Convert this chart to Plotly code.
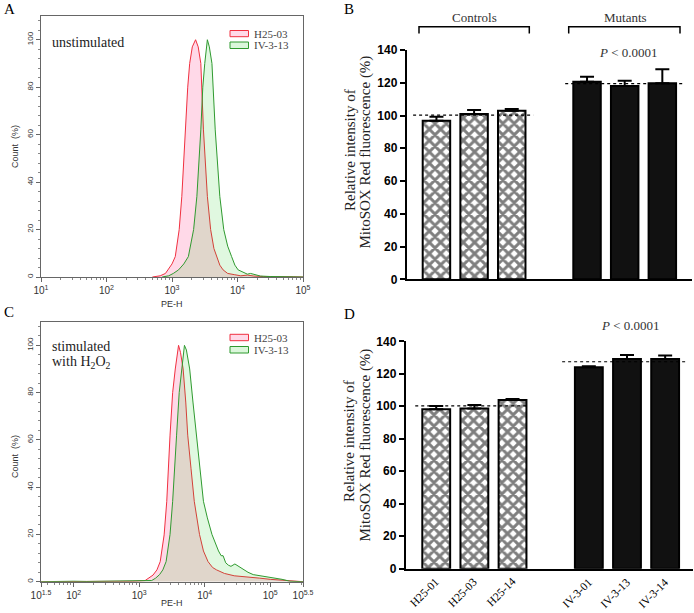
import plotly.graph_objects as go

W, H = 694, 613
def px(x): return x / W
def py(y): return 1 - y / H

SERIF = "Liberation Serif"
SANS = "Liberation Sans"

# ---------------- Data ----------------
# Panel A (unstimulated) histogram: log10(PE-H) and Count (%)
a_red_log = [2.70, 2.82, 2.90, 2.94, 3.00, 3.05, 3.11, 3.15, 3.20, 3.24, 3.27, 3.31, 3.36, 3.40, 3.44, 3.48, 3.54, 3.59, 3.64, 3.68, 3.73, 3.78, 3.85, 3.95, 4.05, 4.15, 4.25, 4.40, 4.70, 4.85, 5.00]
a_red_cnt = [0, 0.5, 1.5, 3, 5.5, 8.6, 20, 34, 62, 80, 90, 97, 100, 97, 90, 62, 34, 20, 12, 8.6, 5, 3, 1.5, 1, 0.5, 0.8, 0.4, 0.2, 0.3, 0.1, 0]
a_grn_log = [2.85, 2.95, 3.02, 3.10, 3.18, 3.25, 3.33, 3.38, 3.44, 3.47, 3.50, 3.52, 3.54, 3.57, 3.61, 3.66, 3.73, 3.79, 3.85, 3.91, 3.96, 4.01, 4.08, 4.15, 4.20, 4.26, 4.35, 4.50, 4.70, 5.00]
a_grn_cnt = [0, 0.5, 1.5, 3, 5.5, 8.6, 20, 34, 62, 80, 90, 97, 100, 97, 90, 62, 34, 20, 13, 8.6, 5, 3, 2, 1.2, 1.5, 1, 0.4, 0.2, 0.1, 0]

# Panel C (stimulated with H2O2) histogram
c_red_log = [1.50, 2.50, 2.90, 3.09, 3.15, 3.21, 3.27, 3.32, 3.38, 3.42, 3.47, 3.51, 3.55, 3.58, 3.60, 3.63, 3.67, 3.71, 3.74, 3.79, 3.84, 3.92, 3.98, 4.05, 4.12, 4.18, 4.30, 4.45, 4.60, 4.75, 4.84, 5.00, 5.10, 5.25, 5.40, 5.50]
c_red_cnt = [0, 0.1, 0.2, 0.5, 1.5, 2.8, 5, 8.5, 19.8, 34, 62, 80, 90, 97, 100, 97, 90, 76, 62, 48, 34, 20, 13, 8.5, 6, 5, 3.5, 2.5, 2, 1.8, 1.5, 1, 0.8, 0.3, 0, 0]
c_grn_log = [1.50, 1.90, 2.00, 2.20, 2.80, 3.00, 3.19, 3.25, 3.31, 3.36, 3.41, 3.47, 3.51, 3.57, 3.61, 3.65, 3.67, 3.69, 3.72, 3.77, 3.82, 3.87, 3.92, 3.98, 4.04, 4.11, 4.21, 4.25, 4.28, 4.32, 4.36, 4.40, 4.46, 4.52, 4.59, 4.66, 4.74, 4.85, 4.95, 5.05, 5.10, 5.18, 5.30, 5.50]
c_grn_cnt = [0, 0.3, 0.2, 0.1, 0.3, 0.3, 0.5, 1.5, 3, 5, 8.5, 20, 34, 62, 80, 90, 97, 100, 98, 90, 76, 62, 48, 34, 27, 20, 13, 11, 11, 8, 7, 6.5, 7.5, 6.5, 5, 4, 3, 2.5, 2, 1.5, 1.5, 1, 0.2, 0]

legend_names = ["H25-03", "IV-3-13"]

# Bar panels
bar_labels = ["H25-01", "H25-03", "H25-14", "IV-3-01", "IV-3-13", "IV-3-14"]
bar_pos = [0, 1, 2, 4, 5, 6]
b_values = [96.8, 100.9, 102.9, 120.6, 118.0, 119.7]
b_errors = [2.5, 2.5, 1.1, 3.1, 3.3, 8.5]
d_values = [98.1, 98.7, 103.9, 124.0, 129.1, 129.1]
d_errors = [2.1, 2.1, 0.6, 0.6, 2.5, 2.1]

hist_xticks_a = [1, 2, 3, 4, 5]
hist_xticks_c = [1.5, 2, 3, 4, 5, 5.5]
hist_yticks = [0, 20, 40, 60, 80, 100]
bar_yticks = [0, 20, 40, 60, 80, 100, 120, 140]

RED_LINE = "#f03040"
GRN_LINE = "#2f9a2f"
RED_FILL = "rgba(255,0,100,0.15)"
GRN_FILL = "rgba(0,200,0,0.12)"

fig = go.Figure()

def hist_traces(xa, ya, logs_r, cnt_r, logs_g, cnt_g):
    fig.add_trace(go.Scatter(x=[10 ** v for v in logs_r], y=cnt_r, mode="lines",
                             line=dict(color=RED_LINE, width=1), fill="tozeroy",
                             fillcolor=RED_FILL, xaxis=xa, yaxis=ya, showlegend=False,
                             name=legend_names[0]))
    fig.add_trace(go.Scatter(x=[10 ** v for v in logs_g], y=cnt_g, mode="lines",
                             line=dict(color=GRN_LINE, width=1), fill="tozeroy",
                             fillcolor=GRN_FILL, xaxis=xa, yaxis=ya, showlegend=False,
                             name=legend_names[1]))

hist_traces("x", "y", a_red_log, a_red_cnt, a_grn_log, a_grn_cnt)
hist_traces("x3", "y3", c_red_log, c_red_cnt, c_grn_log, c_grn_cnt)

def bar_traces(xa, ya, vals, errs, xl_c, xl_m):
    ctrl_x, mut_x = bar_pos[:3], bar_pos[3:]
    fig.add_trace(go.Bar(x=ctrl_x, y=vals[:3], width=0.73, xaxis=xa, yaxis=ya,
                         marker=dict(color="white", line=dict(color="black", width=2),
                                     pattern=dict(shape="x", fgcolor="black", bgcolor="white",
                                                  size=8, solidity=0.6)),
                         error_y=dict(type="data", symmetric=False, array=errs[:3],
                                      arrayminus=[0, 0, 0], color="black", thickness=2, width=7),
                         showlegend=False))
    fig.add_trace(go.Bar(x=mut_x, y=vals[3:], width=0.73, xaxis=xa, yaxis=ya,
                         marker=dict(color="#111111", line=dict(color="black", width=2)),
                         error_y=dict(type="data", symmetric=False, array=errs[3:],
                                      arrayminus=[0, 0, 0], color="black", thickness=2, width=7),
                         showlegend=False))
    mc = sum(vals[:3]) / 3
    mm = sum(vals[3:]) / 3
    fig.add_trace(go.Scatter(x=xl_c, y=[mc, mc], mode="lines", xaxis=xa, yaxis=ya,
                             line=dict(color="black", width=1.2, dash="dot"), showlegend=False))
    fig.add_trace(go.Scatter(x=xl_m, y=[mm, mm], mode="lines", xaxis=xa, yaxis=ya,
                             line=dict(color="black", width=1.2, dash="dot"), showlegend=False))

bar_traces("x2", "y2", b_values, b_errors, [-0.62, 2.57], [3.42, 6.6])
bar_traces("x4", "y4", d_values, d_errors, [-0.55, 2.4], [3.3, 6.6])

# ---------------- Axes ----------------
minor_log = []
for d in range(1, 6):
    for k in range(2, 10):
        minor_log.append(k * 10 ** d)

def fmt(t):
    return str(int(t)) if t == int(t) else str(t)

def hist_axes(xname, yname, xanchor, yanchor, xdom, ydom, xr, xticks):
    frame = dict(showline=True, linecolor="#666666", linewidth=1, mirror=True,
                 showgrid=False, zeroline=False, automargin=False)
    fig.layout[xname] = dict(domain=xdom, anchor=xanchor, type="log", range=xr,
                             tickmode="array", tickvals=[10 ** t for t in xticks],
                             ticktext=["10<sup>%s</sup>" % fmt(t) for t in xticks],
                             ticks="outside", ticklen=4, tickcolor="#666666",
                             tickfont=dict(family=SANS, size=10, color="#333333"),
                             minor=dict(ticks="outside", ticklen=2, tickcolor="#888888",
                                        tickmode="array", tickvals=minor_log),
                             **frame)
    fig.layout[yname] = dict(domain=ydom, anchor=yanchor, range=[0, 110], tickmode="array",
                             tickvals=hist_yticks, ticks="outside", ticklen=4,
                             tickcolor="#666666", tickangle=-90,
                             tickfont=dict(family=SANS, size=8, color="#333333"),
                             minor=dict(ticks="outside", ticklen=2, dtick=4, tickcolor="#888888"),
                             **frame)

hist_axes("xaxis", "yaxis", "y", "x", [px(41), px(303)], [py(277), py(16)], [1, 5], hist_xticks_a)
hist_axes("xaxis3", "yaxis3", "y3", "x3", [px(41), px(303)], [py(581.7), py(321.7)], [1.5, 5.5], hist_xticks_c)

def bar_axes(xname, yname, xanchor, yanchor, xdom, ydom, xr):
    fig.layout[xname] = dict(domain=xdom, anchor=xanchor, range=xr, showline=True,
                             linecolor="black", linewidth=1.8, showgrid=False, zeroline=False,
                             ticks="", showticklabels=False, automargin=False)
    fig.layout[yname] = dict(domain=ydom, anchor=yanchor, range=[0, 140], tickmode="array",
                             tickvals=bar_yticks, showline=True, linecolor="black",
                             linewidth=1.8, showgrid=False, zeroline=False, ticks="outside",
                             ticklen=5, tickwidth=1.8, tickcolor="black", automargin=False,
                             tickfont=dict(family=SANS, size=12, color="black", weight="bold"))

bar_axes("xaxis2", "yaxis2", "y2", "x2", [px(406.7), px(691.7)], [py(279.3), py(50)], [-0.79, 6.78])
bar_axes("xaxis4", "yaxis4", "y4", "x4", [px(405.7), px(693)], [py(568.7), py(341.3)], [-0.8, 6.73])

# ---------------- Annotations & shapes ----------------
ann = []
def text(x, y, s, size=12, family=SERIF, color="black", xanchor="center", angle=0):
    ann.append(dict(x=px(x), y=py(y), xref="paper", yref="paper", text=s, showarrow=False,
                    xanchor=xanchor, yanchor="middle", textangle=angle,
                    font=dict(family=family, size=size, color=color)))

# rotated category labels under panel D, placed at the bar positions
for pos, lab in zip(bar_pos, bar_labels):
    ann.append(dict(x=pos, y=py(573), xref="x4", yref="paper", text=lab, showarrow=False,
                    xanchor="right", yanchor="top", textangle=-45, xshift=8,
                    font=dict(family=SERIF, size=11.5, color="black")))

text(2, 9, "A", 15, xanchor="left")
text(342, 9, "B", 15, xanchor="left")
text(2, 312, "C", 15, xanchor="left")
text(342, 314, "D", 15, xanchor="left")

text(50, 42, "unstimulated", 14, color="#222222", xanchor="left")
text(50, 346, "stimulated", 14, color="#222222", xanchor="left")
text(50, 362, "with H<sub>2</sub>O<sub>2</sub>", 14, color="#222222", xanchor="left")

text(15, 147, "Count  (%)", 9, family=SANS, color="#333333", angle=-90)
text(15, 457, "Count  (%)", 9, family=SANS, color="#333333", angle=-90)
text(172, 304, "PE-H", 9, family=SANS, color="#333333")
text(172, 603, "PE-H", 9, family=SANS, color="#333333")

shapes = []
def legend_box(y0, y1, line, fill):
    shapes.append(dict(type="rect", xref="paper", yref="paper", x0=px(230), x1=px(248.5),
                       y0=py(y1), y1=py(y0), line=dict(color=line, width=1), fillcolor=fill))

legend_box(30.5, 36.7, RED_LINE, "rgba(255,0,100,0.15)")
legend_box(42, 48.5, GRN_LINE, "rgba(0,200,0,0.14)")
text(252, 33.6, legend_names[0], 11, color="#444444", xanchor="left")
text(252, 45.3, legend_names[1], 11, color="#444444", xanchor="left")
legend_box(334.3, 340.7, RED_LINE, "rgba(255,0,100,0.15)")
legend_box(346.5, 353, GRN_LINE, "rgba(0,200,0,0.14)")
text(252, 337.5, legend_names[0], 11, color="#444444", xanchor="left")
text(252, 349.8, legend_names[1], 11, color="#444444", xanchor="left")

def bracket(x0, x1, ytop, ybot):
    shapes.append(dict(type="path", xref="paper", yref="paper",
                       path="M %f %f L %f %f L %f %f L %f %f" % (px(x0), py(ybot), px(x0), py(ytop),
                                                                px(x1), py(ytop), px(x1), py(ybot)),
                       line=dict(color="black", width=1.5)))

bracket(419, 529.3, 26.7, 33.5)
bracket(568.7, 680, 26.7, 33.5)
text(474, 18, "Controls", 13, color="#333333")
text(625, 18, "Mutants", 13, color="#333333")
text(628.3, 52, "<i>P</i> &lt; 0.0001", 13, color="#333333")
text(630, 325, "<i>P</i> &lt; 0.0001", 13, color="#333333")

text(350, 150, "Relative intensity of", 15, color="#222222", angle=-90)
text(365.5, 152, "MitoSOX Red fluorescence (%)", 15, color="#222222", angle=-90)
text(349, 441, "Relative intensity of", 15, color="#222222", angle=-90)
text(364.5, 445, "MitoSOX Red fluorescence (%)", 15, color="#222222", angle=-90)

fig.update_layout(width=W, height=H, margin=dict(l=0, r=0, t=0, b=0),
                  paper_bgcolor="white", plot_bgcolor="white",
                  annotations=ann, shapes=shapes, showlegend=False, barmode="overlay")

fig.write_html("out.html", config={"displayModeBar": False},
               post_script="document.body.style.margin='0';document.body.style.overflow='hidden';")
